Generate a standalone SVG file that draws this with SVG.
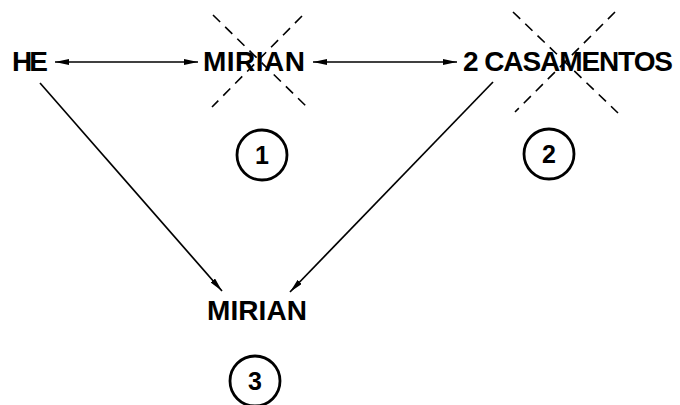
<svg xmlns="http://www.w3.org/2000/svg" width="680" height="405" viewBox="0 0 680 405">
  <style>
    .lbl { font-family: "Liberation Sans", Arial, sans-serif; font-weight: bold; font-size: 28px; fill: #000; }
    .num { font-family: "Liberation Sans", Arial, sans-serif; font-weight: bold; font-size: 25px; fill: #000; text-anchor: middle; }
    .ring { fill: none; stroke: #000; stroke-width: 2.8; }
    .edge { fill: none; stroke: #000; stroke-width: 1.7; }
    .cross { fill: none; stroke: #000; stroke-width: 1.6; stroke-dasharray: 10 7; }
  </style>
  <defs>
    <marker id="head" viewBox="0 0 14 6" refX="14" refY="3" markerWidth="14" markerHeight="6" markerUnits="userSpaceOnUse" orient="auto-start-reverse">
      <path d="M0,0 L14,3 L0,6 Z" fill="#000"/>
    </marker>
  </defs>
  <rect width="680" height="405" fill="#fff"/>

  <g id="connectors">
    <line class="edge" x1="55" y1="62" x2="198" y2="62" marker-start="url(#head)" marker-end="url(#head)"/>
    <line class="edge" x1="313" y1="62" x2="457" y2="62" marker-start="url(#head)" marker-end="url(#head)"/>
    <line class="edge" x1="40" y1="83" x2="222" y2="291" marker-end="url(#head)"/>
    <line class="edge" x1="493" y1="82" x2="290" y2="292" marker-end="url(#head)"/>
  </g>

  <g id="he">
    <text class="lbl" x="12" y="71" textLength="36">HE</text>
  </g>

  <g id="mirian-1">
    <text class="lbl" x="203" y="71" textLength="102">MIRIAN</text>
    <line class="cross" x1="213" y1="15" x2="307" y2="107"/>
    <line class="cross" x1="302" y1="16" x2="212" y2="107"/>
  </g>

  <g id="casamentos">
    <text class="lbl" x="463" y="71" textLength="210">2 CASAMENTOS</text>
    <line class="cross" x1="513" y1="12" x2="618" y2="113"/>
    <line class="cross" x1="615" y1="12" x2="515" y2="112"/>
  </g>

  <g id="mirian-3">
    <text class="lbl" x="207" y="320" textLength="100">MIRIAN</text>
  </g>

  <g id="step-1">
    <circle class="ring" cx="262" cy="155" r="25"/>
    <text class="num" x="262" y="164">1</text>
  </g>
  <g id="step-2">
    <circle class="ring" cx="549" cy="154" r="25"/>
    <text class="num" x="549" y="163">2</text>
  </g>
  <g id="step-3">
    <circle class="ring" cx="255" cy="381" r="25"/>
    <text class="num" x="255" y="390">3</text>
  </g>
</svg>
